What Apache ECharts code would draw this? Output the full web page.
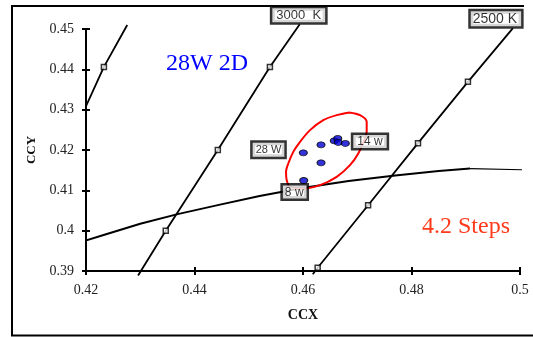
<!DOCTYPE html>
<html><head><meta charset="utf-8">
<script src="https://cdn.jsdelivr.net/npm/echarts@6/dist/echarts.min.js"></script>
<style>html,body{margin:0;padding:0;background:#fff}#c{width:533px;height:337px}</style>
</head><body><div id="c"></div>
<script>
// ---- data ----
const xRange = [0.42, 0.50], xStep = 0.02;
const yRange = [0.39, 0.45], yStep = 0.01;
const xName = 'CCX', yName = 'CCY';

// Planckian (blackbody) locus
const planckLocus = [[0.4193,0.3973],[0.4234,0.3990],[0.4300,0.4017],[0.4369,0.4041],[0.4445,0.4064],
  [0.4520,0.4086],[0.4599,0.4106],[0.4684,0.4123],[0.4770,0.4137],[0.4850,0.4148],[0.4908,0.4154]];
const locusTail = [[0.4908,0.4154],[0.5006,0.4151]];

// isotemperature lines
const isoLeft = [[0.4194,0.4291],[0.4233,0.4406],[0.4276,0.4510]];
const iso3000 = [[0.4296,0.3889],[0.4347,0.4000],[0.4443,0.4200],[0.4539,0.4406],[0.4594,0.4512]];
const iso2500 = [[0.4618,0.3892],[0.4627,0.3908],[0.4720,0.4063],[0.4812,0.4217],[0.4904,0.4369],[0.4987,0.4502]];
const isoLeftMarks = [[0.4233,0.4406]];
const iso3000Marks = [[0.4347,0.4000],[0.4443,0.4200],[0.4539,0.4406]];
const iso2500Marks = [[0.4627,0.3908],[0.4720,0.4063],[0.4812,0.4217],[0.4904,0.4369]];
const isoTagTexts = ['3000  K', '2500 K'];

// measured samples
const samples = [[0.46006,0.41929],[0.46332,0.42128],[0.46332,0.41681],[0.46577,0.42227],
  [0.46640,0.42287],[0.46650,0.42188],[0.46780,0.42163],[0.46013,0.41244]];
const wattTexts = ['28 W', '14 w', '8 w'];
const wattPoints = [[0.46006,0.41929],[0.46780,0.42163],[0.46013,0.41244]];

// 4.2-step ellipse outline
const ellipse = [[0.46854,0.42932],[0.47051,0.42865],[0.47174,0.42699],[0.47174,0.42451],[0.47143,0.42287],
  [0.47019,0.41915],[0.46866,0.41624],[0.46621,0.41334],[0.46313,0.41128],[0.46006,0.41046],
  [0.45760,0.41085],[0.45700,0.41252],[0.45687,0.41458],[0.45729,0.41666],[0.45821,0.41954],
  [0.45945,0.42203],[0.46129,0.42493],[0.46374,0.42741],[0.46621,0.42865],[0.46854,0.42932]];

const titleText = '28W 2D';
const stepsText = '4.2 Steps';

// ---- chart ----
const serif = 'Liberation Serif';
const sans = 'Liberation Sans';
const chart = echarts.init(document.getElementById('c'), null, {renderer:'canvas'});

function axisBase(min, max, step) {
  return {type:'value', min:min, max:max, interval:step, splitLine:{show:false}};
}
const xMain = Object.assign(axisBase(xRange[0], xRange[1], xStep), {
  position:'bottom',
  axisLine:{lineStyle:{color:'#000', width:2}},
  axisTick:{show:true, length:4, lineStyle:{color:'#000', width:2}},
  axisLabel:{color:'#222', fontFamily:serif, fontSize:14, margin:12},
  name:xName, nameLocation:'middle', nameGap:37,
  nameTextStyle:{fontFamily:serif, fontWeight:'bold', fontSize:14, color:'#111'}
});
const xInner = Object.assign(axisBase(xRange[0], xRange[1], xStep), {
  position:'bottom', axisLine:{show:false},
  axisTick:{show:true, inside:true, length:4, lineStyle:{color:'#000', width:2}},
  axisLabel:{show:false}
});
const yMain = Object.assign(axisBase(yRange[0], yRange[1], yStep), {
  position:'left',
  axisLine:{lineStyle:{color:'#000', width:2}},
  axisTick:{show:true, length:4, lineStyle:{color:'#000', width:2}},
  axisLabel:{color:'#222', fontFamily:serif, fontSize:14, margin:12},
  name:yName, nameLocation:'middle', nameGap:45,
  nameTextStyle:{fontFamily:serif, fontWeight:'bold', fontSize:13, color:'#111'}
});
const yInner = Object.assign(axisBase(yRange[0], yRange[1], yStep), {
  position:'left', axisLine:{show:false},
  axisTick:{show:true, inside:true, length:4, lineStyle:{color:'#000', width:2}},
  axisLabel:{show:false}
});

function lineSeries(data, width, z) {
  return {type:'line', data:data, clip:false, showSymbol:false, symbol:'none', z:z||2,
    lineStyle:{color:'#000', width:width}, silent:true, animation:false};
}
function markSeries(data) {
  return {type:'scatter', data:data, clip:false, symbol:'rect', symbolSize:5, z:4,
    itemStyle:{color:'#fff', borderColor:'#000', borderWidth:1.5}, animation:false};
}
const boxLabel = (fs, pad) => ({show:true, color:'#000', fontFamily:sans, fontSize:fs,
  backgroundColor:'#fff', borderColor:'#000', borderWidth:2.5, padding:pad});

const isoTagData = [
  {value: iso3000[iso3000.length-1], label: Object.assign(boxLabel(13,[1,4,0,4]), {formatter:isoTagTexts[0], position:'top', distance:2, offset:[-1,0]})},
  {value: iso2500[iso2500.length-1], label: Object.assign(boxLabel(14,[1,4,0,2]), {formatter:isoTagTexts[1], position:'top', distance:2, offset:[-17,0]})}
];
const wattStyles = [
  {position:'left', distance:19, offset:[0,-3], fs:11, pad:[2,3,1,3]},
  {position:'right', distance:8, offset:[0,-2], fs:12, pad:[1,4,0,4]},
  {position:'bottom', distance:5, offset:[-9,0], fs:12, pad:[1,3,0,2]}
];
const wattData = wattPoints.map((p, i) => {
  const s = wattStyles[i];
  return {value:p, label:Object.assign(boxLabel(s.fs, s.pad), {formatter:wattTexts[i], position:s.position, distance:s.distance, offset:s.offset})};
});

chart.setOption({
  animation:false,
  backgroundColor:'#fff',
  grid:{left:86, right:13, top:29, bottom:66},
  xAxis:[xMain, xInner],
  yAxis:[yMain, yInner],
  series:[
    lineSeries(planckLocus, 2),
    lineSeries(locusTail, 1.2),
    lineSeries(isoLeft, 1.8),
    lineSeries(iso3000, 1.8),
    lineSeries(iso2500, 1.8),
    markSeries(isoLeftMarks),
    markSeries(iso3000Marks),
    markSeries(iso2500Marks),
    {type:'line', data:ellipse, clip:false, showSymbol:false, symbol:'none', smooth:0.3, z:3,
      lineStyle:{color:'#ff0000', width:2}},
    {type:'scatter', data:samples, symbol:'circle', symbolSize:[8,6], z:5,
      itemStyle:{color:'#0000d0', borderColor:'#000', borderWidth:1}},
    {type:'scatter', data:isoTagData, clip:false, symbol:'rect', symbolSize:0, z:10,
      emphasis:{disabled:true}},
    {type:'scatter', data:wattData, clip:false, symbol:'rect', symbolSize:0, z:10,
      emphasis:{disabled:true}}
  ],
  graphic:[
    {type:'polyline', shape:{points:[[524,6],[12,6],[12,335.5],[533,335.5]]}, style:{stroke:'#000', lineWidth:2, fill:null}, silent:true},
    {type:'text', left:166, top:52, style:{text:titleText, fill:'#0000ff', font:'24px "Liberation Serif"'}},
    {type:'text', left:422, top:215, style:{text:stepsText, fill:'#ff3a1a', font:'24px "Liberation Serif"'}}
  ]
});
</script>
</body></html>
